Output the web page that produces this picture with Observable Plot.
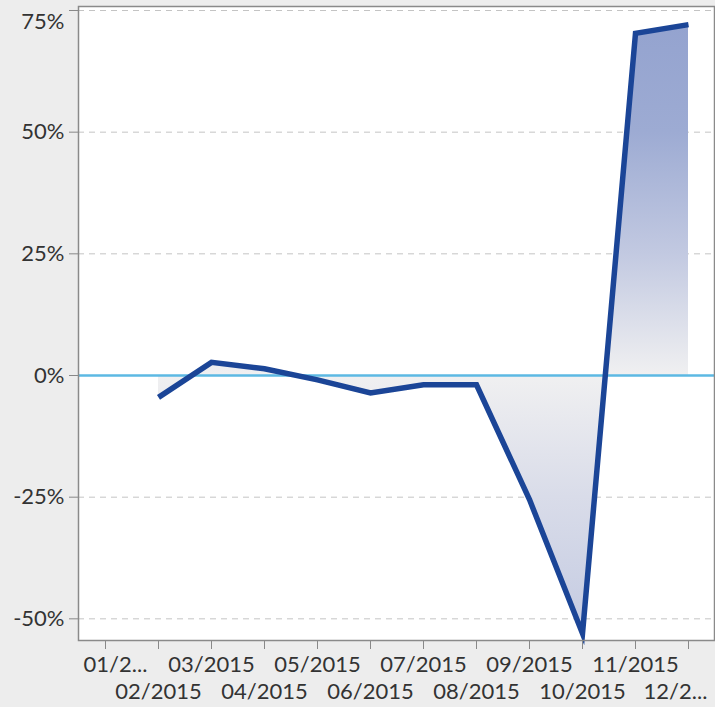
<!DOCTYPE html>
<html><head><meta charset="utf-8">
<script src="https://cdn.jsdelivr.net/npm/d3@7"></script>
<script src="https://cdn.jsdelivr.net/npm/@observablehq/plot@0.6"></script>
<style>
html,body{margin:0;padding:0;background:#ededed;}
#chart svg{display:block;}
</style></head><body><div id="chart"></div>
<script>
const months = ["01/2015","02/2015","03/2015","04/2015","05/2015","06/2015","07/2015","08/2015","09/2015","10/2015","11/2015","12/2015"];
const monthLabels = ["01/2...","02/2015","03/2015","04/2015","05/2015","06/2015","07/2015","08/2015","09/2015","10/2015","11/2015","12/2..."];
const changePct = [null, -4.5, 2.7, 1.4, -0.9, -3.6, -1.9, -1.9, -25.5, -53.0, 70.3, 72.1];
const yTicks = [-50, -25, 0, 25, 50, 75];
const yDomain = [-54.45, 75.82];

const rows = months.map((m, i) => ({month: m, value: changePct[i]}));
const labelOf = new Map(months.map((m, i) => [m, monthLabels[i]]));
const fmtPct = d => d + "%";

const maxV = d3.max(changePct), minV = d3.min(changePct);
const offset = v => (maxV - v) / (maxV - minV);
const gradStops = [
  [maxV, "#94a3cf"], [50, "#9dabd3"], [25, "#c2c9e1"], [0, "#f0f0f1"],
  [-25, "#d9dce9"], [minV, "#c4cbe2"]
];

const gradientMark = () => {
  const defs = d3.create("svg:defs");
  const g = defs.append("linearGradient").attr("id", "areaGrad")
    .attr("x1", 0).attr("y1", 0).attr("x2", 0).attr("y2", 1);
  gradStops.forEach(([v, c]) => g.append("stop").attr("offset", offset(v)).attr("stop-color", c));
  return defs.node();
};

const firstRow = months.filter((m, i) => i % 2 === 0 && i > 0);
const secondRow = months.filter((m, i) => i % 2 === 1 && i < 11);
const ax = {label: null, fill: "#333"};

const chart = Plot.plot({
  width: 715,
  height: 707,
  marginLeft: 78,
  marginRight: 1,
  marginTop: 6,
  marginBottom: 67,
  style: {fontFamily: "Lato, sans-serif", fontSize: "22px", background: "transparent", color: "#333"},
  x: {type: "point", domain: months, padding: 0.5, axis: null},
  y: {domain: yDomain, axis: null},
  marks: [
    gradientMark,
    Plot.frame({fill: "white", stroke: null}),
    Plot.gridY(yTicks.filter(t => t !== 0), {stroke: "#c4c4c4", strokeOpacity: 1, strokeDasharray: "6,5"}),
    Plot.areaY(rows, {x: "month", y1: 0, y2: "value", fill: "url(#areaGrad)"}),
    Plot.ruleY([0], {stroke: "#5cb9e3", strokeWidth: 2.5}),
    Plot.lineY(rows, {x: "month", y: "value", stroke: "#1b4597", strokeWidth: 5.5, strokeLinejoin: "miter", strokeLinecap: "butt", strokeMiterlimit: 10}),
    // y axis
    Plot.axisY(yTicks, {label: null, tickSize: 9, stroke: "#888", tickFormat: () => ""}),
    Plot.axisY(yTicks.filter(t => t !== 75), {...ax, tickSize: 0, tickPadding: 14, tickFormat: fmtPct}),
    Plot.axisY([75], {...ax, tickSize: 0, tickPadding: 14, tickFormat: fmtPct, dy: 11}),
    // x axis
    Plot.axisX(months, {label: null, tickSize: 9, stroke: "#888", tickFormat: () => ""}),
    Plot.axisX(firstRow, {...ax, tickSize: 0, tickPadding: 16, tickFormat: d => labelOf.get(d)}),
    Plot.axisX(secondRow, {...ax, tickSize: 0, tickPadding: 16, dy: 27, tickFormat: d => labelOf.get(d)}),
    Plot.axisX([months[0]], {...ax, tickSize: 0, tickPadding: 16, dx: 10, tickFormat: d => labelOf.get(d)}),
    Plot.axisX([months[11]], {...ax, tickSize: 0, tickPadding: 16, dy: 27, dx: -13, tickFormat: d => labelOf.get(d)}),
    Plot.frame({stroke: "#8a8a8a", strokeWidth: 1.5})
  ]
});
document.getElementById("chart").append(chart);
</script>
</body></html>
